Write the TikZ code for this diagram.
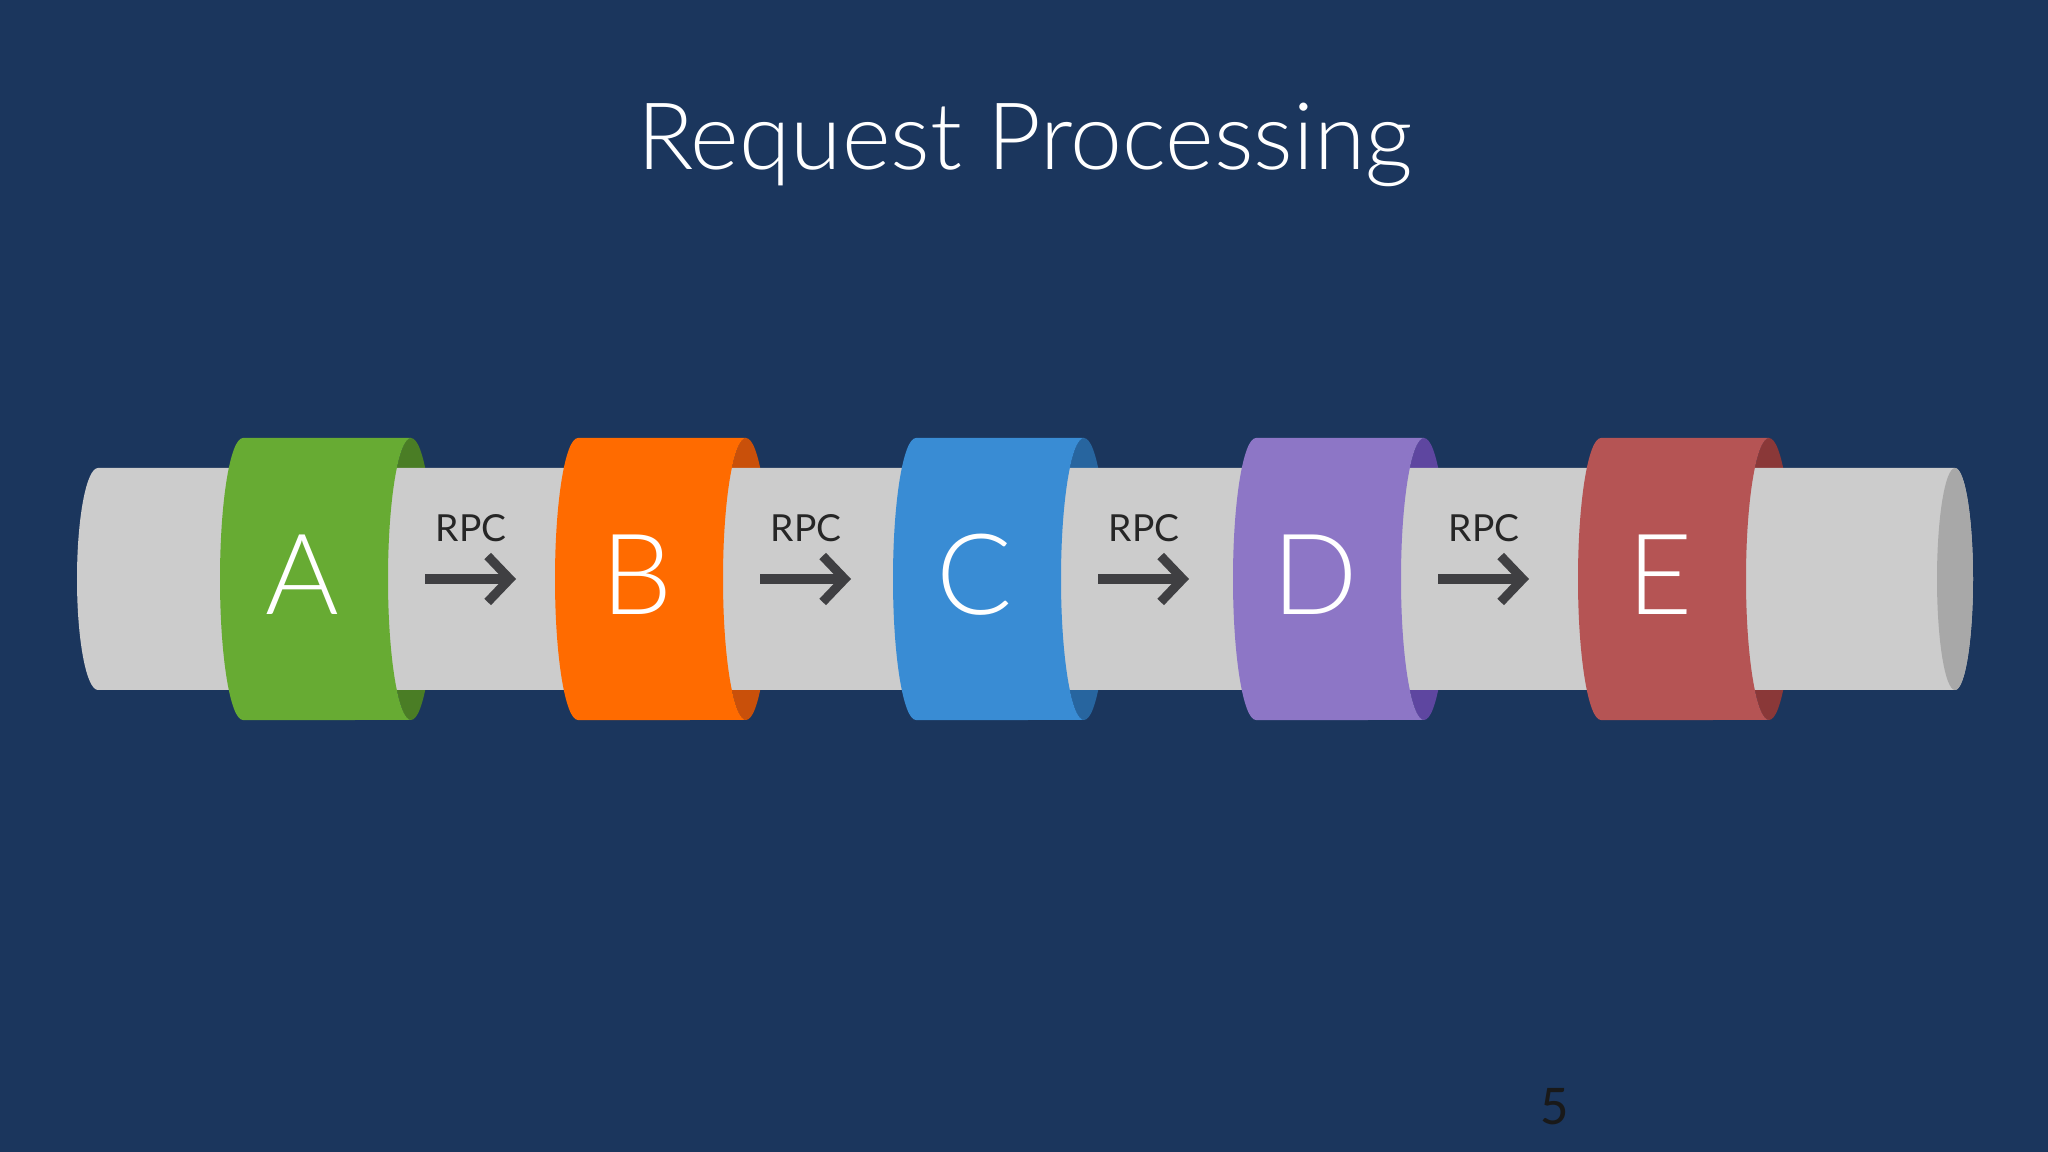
\documentclass[tikz,border=0pt]{standalone}
\usepackage{fontspec}
\setmainfont{Lato}
\newfontfamily\thinfont{Lato Light}
\newfontfamily\numfont{Carlito}
\usetikzlibrary{arrows.meta,positioning}
\definecolor{bgblue}{HTML}{1B365D}
\definecolor{pipegray}{HTML}{CCCCCC}
\definecolor{pipeend}{HTML}{A8A8A8}
\definecolor{arrowgray}{HTML}{3F3F42}
\definecolor{bandA}{HTML}{67AB33}
\definecolor{bandAdark}{HTML}{4A7D25}
\definecolor{bandB}{HTML}{FF6B00}
\definecolor{bandBdark}{HTML}{C9500A}
\definecolor{bandC}{HTML}{398CD4}
\definecolor{bandCdark}{HTML}{27659F}
\definecolor{bandD}{HTML}{8D76C6}
\definecolor{bandDdark}{HTML}{5E46A0}
\definecolor{bandE}{HTML}{B55454}
\definecolor{bandEdark}{HTML}{8A3838}
\tikzset{
  >=stealth,
  line cap=round,
  line join=round,
  title/.style={text=white, font=\thinfont\fontsize{26.5}{30}\selectfont, anchor=base},
  letter/.style={text=white, font=\thinfont\fontsize{32}{36}\selectfont, anchor=base},
  rpclabel/.style={text=black!85, font=\fontsize{10.6}{12}\selectfont, anchor=base},
  rpcarrow/.style={-{Straight Barb[length=2.2mm,width=4.6mm]}, line width=2.6pt, arrowgray},
  pagenum/.style={text=black!90, font=\numfont\fontsize{16}{18}\selectfont}
}

\begin{document}
\begin{tikzpicture}

% 배경
\fill[bgblue] (0,0) rectangle (20.48,-11.52);
\useasboundingbox (0,0) rectangle (20.48,-11.52);

% 제목
\node[title] (title) at (10.25,-1.70) {Request Processing};

% 밴드 안쪽 (뒤쪽 타원)
\foreach \c/\xl in {A/2.43,B/5.78,C/9.16,D/12.56,E/16.01}{
  \fill[band\c dark] (\xl+1.68,-5.79) ellipse[x radius=0.23cm, y radius=1.41cm];
}

% 파이프
\fill[pipegray] (0.98,-4.68) arc[start angle=90, end angle=270, x radius=0.21cm, y radius=1.11cm]
  -- (19.55,-6.90) arc[start angle=-90, end angle=90, x radius=0.18cm, y radius=1.11cm] -- cycle;
\fill[pipeend] (19.55,-5.79) ellipse[x radius=0.18cm, y radius=1.11cm];

% 밴드 앞면과 문자
\foreach \c/\xl in {A/2.43,B/5.78,C/9.16,D/12.56,E/16.01}{
  \pgfmathsetmacro{\xr}{\xl+1.68}
  \fill[band\c] (\xl,-4.38) arc[start angle=90, end angle=270, x radius=0.23cm, y radius=1.41cm]
    -- (\xr,-7.20) arc[start angle=270, end angle=90, x radius=0.23cm, y radius=1.41cm] -- cycle;
  \node[letter] (band\c) at (\xl+0.59,-6.15) {\c};
}

% RPC 화살표
\foreach \k/\xr in {1/4.11,2/7.46,3/10.84,4/14.24}{
  \coordinate (from\k) at (\xr+0.14,-5.79);
  \coordinate (to\k) at (\xr+1.05,-5.79);
  \node[rpclabel] (rpc\k) at (\xr+0.60,-5.42) {RPC};
  \draw[rpcarrow] (from\k) -- (to\k);
}

% 쪽 번호
\node[pagenum] (page) at (15.55,-11.07) {5};

\end{tikzpicture}
\end{document}
